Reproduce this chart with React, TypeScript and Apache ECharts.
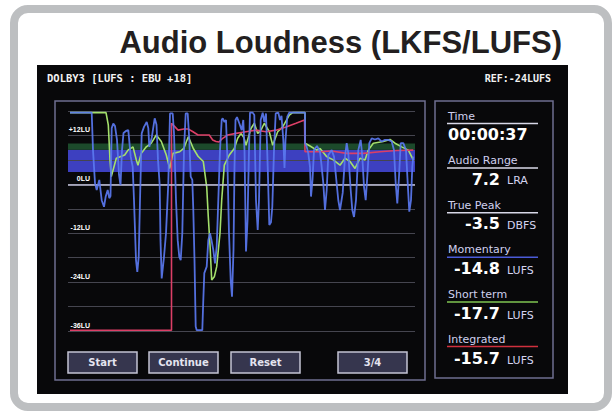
import React, { useEffect, useRef } from "react";
import * as echarts from "echarts";

// ---- data (time steps, LU relative to reference) ----
const momentary: [number, number][] = [
  [2,17.6],[23.7,17.6],[25,8.4],[27,0.3],[28.7,-1.4],[31.3,1.1],[33.7,-3.9],[36,-5.5],[37.7,-3.0],[39.7,-1.4],[41.3,-3.4],[42.5,-2.9],
  [43.7,13.8],[45.3,14.9],[47,14.3],[49,10.9],[51,2.3],[52.5,-0.2],[54,8.4],[55.5,12.6],[58,13.1],[60.3,13.3],[62.7,6.8],[64.7,4.3],
  [66,-3.9],[68,-18.6],[69.3,-21.5],[70.7,-17.8],[72,-3.9],[73.7,12.5],[76,14.1],[78.7,15.3],[80.3,13.8],[81.3,9.2],[83.7,11.4],
  [86.7,16.2],[88.5,14.6],[90,6.0],[91.7,-0.2],[92.5,-13.7],[93.7,-23.1],[96,-17.8],[98,-12.0],[100.3,0.3],[102,17.4],[104.7,17.4],
  [106,12.5],[108,-3.9],[109.7,-13.7],[111.3,-17.8],[112.7,-18.6],[114.3,-12.0],[116,8.4],[117.7,17.4],[119.7,17.4],[121.3,10.9],
  [122.7,1.9],[124.3,1.1],[125.3,-6.3],[126.5,-18.6],[127.7,-34.9],[128.7,-35.8],[134.3,-35.8],[135.3,-28.4],[136.3,-21.8],
  [138.7,-20.2],[140.3,-13.7],[142,-12.0],[143.5,-13.7],[145.3,-16.1],[147,-19.4],[148.7,-15.3],[150.3,-3.9],[152,8.4],[153.7,15.8],
  [154.7,16.2],[156.5,15.3],[158,15.8],[159.3,6.8],[161,-12.0],[162.7,-23.5],[164,-27.6],[165.5,-16.1],[166.5,4.3],[167.5,15.8],
  [169,16.5],[171.3,15.0],[173.7,13.3],[175.3,15.8],[176.5,8.4],[177,0.3],[178,-16.5],[179.5,-9.0],[181,8.4],[182,17.6],[184.7,17.6],
  [186.3,17.0],[188,-3.9],[189.7,-11.2],[191,-3.9],[192.7,15.8],[194.7,17.6],[196.3,15.3],[198,17.4],[199.7,4.3],[201.3,-10.0],
  [203,-9.3],[204.3,-5.5],[206,8.4],[207.7,17.4],[210.3,17.6],[212,15.8],[213.5,16.8],[215.3,10.9],[216.5,4.0],[217.5,10.9],
  [219.3,16.6],[221.3,17.6],[237,17.6],[237,10.1],[238.7,9.2],[240.3,7.6],[242,4.3],[243,-3.0],[244.5,1.1],[246,8.4],[249,9.4],
  [252,8.0],[253.5,4.7],[255.3,0.3],[257,-6.3],[258.7,-1.4],[260.3,7.2],[263.7,8.4],[266,6.8],[268,1.9],[270.3,-3.9],[272,-6.3],
  [274.7,-2.1],[277,6.8],[278.7,10.1],[280.3,7.6],[282.7,-1.4],[284.3,-6.3],[286,-8.0],[288,-3.9],[290.3,8.4],[292.7,10.9],
  [294.3,6.8],[296,-0.6],[297.7,-3.9],[299.3,1.9],[301.3,10.1],[303.7,11.3],[307,11.0],[310.3,11.3],[313.7,10.5],[317,10.9],
  [320.3,10.9],[323.7,10.5],[326,8.4],[327.7,0.3],[329.3,-4.7],[331,1.9],[332.7,10.1],[335.3,10.1],[338,8.4],[339.7,0.3],
  [341.3,-6.7],[343,-3.9],[344.3,4.3],[345.3,6.8],
];

const shortTerm: [number, number][] = [
  [2,17.6],[38,17.6],[40.3,14.6],[42,6.0],[43.3,1.9],[48.3,6.4],[56.7,7.2],[60,8.4],[65,9.2],[68.3,6.0],[70,4.7],[73.3,7.6],
  [78.3,9.2],[83.3,10.1],[88.3,12.1],[93.3,10.5],[98.3,7.2],[101.7,3.9],[105,7.6],[111.7,8.0],[116,8.9],[120.3,11.7],[125.3,8.8],
  [130,6.9],[135.3,5.6],[138.7,-0.6],[140.3,-8.0],[142,-14.9],[143.7,-23.5],[146.3,-22.7],[148.7,-20.2],[152,-12.0],[153.7,-3.9],
  [156.3,4.7],[161.3,7.2],[166.3,8.8],[169.7,11.3],[173,12.5],[176,11.4],[178,9.6],[183,13.7],[186.3,15.0],[189.7,12.5],[193,13.3],
  [196.3,15.0],[201.3,12.9],[204.7,9.6],[209.7,12.9],[214.7,14.1],[221.3,17.0],[224.7,17.6],[237,17.6],[237,10.1],[242,9.4],
  [248.7,8.4],[252,8.8],[258.7,6.8],[265.3,6.0],[272,4.7],[277,6.4],[282,5.6],[287,3.9],[292,6.4],[297,6.0],[300.3,8.4],
  [305.3,10.1],[315.3,10.5],[322,11.0],[327,10.1],[333.7,9.2],[340.3,8.4],[345.3,6.0],
];

const integrated: [number, number][] = [
  [2,-35.8],[103.5,-35.8],[103.5,15.0],[107,14.1],[110,13.3],[116,13.6],[120,13.6],[125,12.9],[130,12.1],[141.3,12.1],
  [144.7,10.9],[148,10.5],[151,10.4],[154.7,11.3],[159.7,12.1],[168,12.5],[178,12.9],[188,13.3],[198,12.9],[208,13.3],[218,14.1],
  [228,15.0],[236.5,15.8],[237,8.0],[252,8.0],[263.7,8.2],[278.7,7.6],[295.3,7.6],[312,8.0],[328.7,8.3],[345.3,8.4],
];

const targetBand: [number, number] = [3, 8.5];
const toleranceBand: [number, number] = [8.5, 10];
const refLine = [0];
const labeledTicks = [12, 0, -12, -24, -36];

const titleText = "Audio Loudness (LKFS/LUFS)";
const headerLeft = "DOLBY3 [LUFS : EBU +18]";
const headerRight = "REF:-24LUFS";
const buttons = ["Start", "Continue", "Reset", "3/4"];
const readoutLabels = ["Time", "Audio Range", "True Peak", "Momentary", "Short term", "Integrated"];
const readoutValues = ["00:00:37", "7.2", "-3.5", "-14.8", "-17.7", "-15.7"];
const readoutUnits = ["", "LRA", "DBFS", "LUFS", "LUFS", "LUFS"];

// ---- styles ----
const C_MOM = "#5a78f0";
const C_SHORT = "#a4e06c";
const C_INT = "#dc3f66";
const underlineColors = ["#d8d8e8", "#d8d8e8", "#d8d8e8", "#4b5bd8", "#7fc452", "#d0303e"];
const buttonX = [68, 149, 231, 338];
const VERDANA = '"DejaVu Sans", Verdana, sans-serif';

function fmtLU(v: number) {
  if (!labeledTicks.includes(v)) return "";
  return v > 0 ? `+${v}LU` : `${v}LU`;
}

function txt(x: number, y: number, text: string, font: string, fill: string, align = "left", z = 10) {
  return {
    type: "text",
    x,
    y,
    z,
    silent: true,
    style: { text, font, fill, textAlign: align, align, textVerticalAlign: "middle", verticalAlign: "middle" },
  };
}

function buildGraphic() {
  const els: any[] = [];
  els.push({ type: "rect", z: -10, silent: true, shape: { x: 14, y: 9, width: 594, height: 398, r: 14 }, style: { fill: "#ffffff", stroke: "#bdbfc1", lineWidth: 8 } });
  els.push({ type: "rect", z: -9, silent: true, shape: { x: 37, y: 65, width: 531, height: 329 }, style: { fill: "#08080a" } });
  els.push({ type: "rect", z: -8, silent: true, shape: { x: 55, y: 101, width: 370, height: 279 }, style: { fill: "none", stroke: "#6e6e90", lineWidth: 1.5 } });
  els.push({ type: "rect", z: -8, silent: true, shape: { x: 435, y: 101, width: 118, height: 277 }, style: { fill: "none", stroke: "#6e6e90", lineWidth: 1.5 } });
  els.push(txt(562, 42, titleText, 'bold 31px "Liberation Sans", Arial, sans-serif', "#231f20", "right"));
  els.push(txt(47, 78, headerLeft, 'bold 10.5px "DejaVu Sans Mono", monospace', "#f2f2f2", "left"));
  els.push(txt(551, 78, headerRight, 'bold 10px "DejaVu Sans Mono", monospace', "#f2f2f2", "right"));
  buttons.forEach((b, i) => {
    els.push({ type: "rect", z: 5, silent: true, shape: { x: buttonX[i], y: 352, width: 69, height: 21 }, style: { fill: "#36364e", stroke: "#c4c4d4", lineWidth: 1.5 } });
    els.push(txt(buttonX[i] + 34.5, 362.5, b, `bold 10px ${VERDANA}`, "#e4e4f0", "center"));
  });
  readoutLabels.forEach((lab, i) => {
    const base = 116 + 44.6 * i;
    els.push(txt(448, base, lab, `11px ${VERDANA}`, "#cfd0ee", "left"));
    const uy = 123.5 + 44.6 * i;
    els.push({ type: "line", z: 10, silent: true, shape: { x1: 447, y1: uy, x2: 538, y2: uy }, style: { stroke: underlineColors[i], lineWidth: 1.5 } });
    const vy = 134.2 + 44.8 * i;
    if (i === 0) {
      els.push(txt(448, vy, readoutValues[i], `bold 16px ${VERDANA}`, "#ffffff", "left"));
    } else {
      els.push(txt(500, vy, readoutValues[i], `bold 16px ${VERDANA}`, "#ffffff", "right"));
      els.push(txt(507, vy + 1.8, readoutUnits[i], `11px ${VERDANA}`, "#d4d4f0", "left"));
    }
  });
  return els;
}

export default function App() {
  const ref = useRef<HTMLDivElement>(null);
  useEffect(() => {
    if (!ref.current) return;
    const chart = echarts.init(ref.current, undefined, { renderer: "svg" });
    chart.setOption({
      animation: false,
      backgroundColor: "#ffffff",
      grid: { left: 68, top: 111, width: 347, height: 220 },
      xAxis: { type: "value", min: 0, max: 347, show: false },
      yAxis: {
        type: "value",
        min: -36,
        max: 18,
        interval: 6,
        axisLine: { show: false },
        axisTick: { show: false },
        splitLine: { show: true, lineStyle: { color: "#45454f", width: 1 } },
        axisLabel: {
          inside: true,
          margin: 22,
          align: "right",
          verticalAlign: "bottom",
          padding: [0, 0, 2, 0],
          formatter: (v: number) => fmtLU(v),
          color: "#ffffff",
          fontSize: 7,
          fontWeight: "bold",
          fontFamily: '"Liberation Sans", Arial, sans-serif',
        },
        z: 3,
      },
      graphic: buildGraphic(),
      series: [
        {
          type: "line",
          name: "bands",
          data: [],
          z: 1,
          silent: true,
          markArea: {
            silent: true,
            itemStyle: { opacity: 1 },
            data: [
              [{ yAxis: targetBand[0], itemStyle: { color: "#3d40c0" } }, { yAxis: targetBand[1] }],
              [{ yAxis: toleranceBand[0], itemStyle: { color: "#1c4a2b" } }, { yAxis: toleranceBand[1] }],
            ],
          },
          markLine: {
            silent: true,
            symbol: "none",
            label: { show: false },
            lineStyle: { color: "#c4c4dc", width: 1.5, type: "solid" },
            data: refLine.map((v) => ({ yAxis: v })),
          },
        },
        { type: "line", name: "Short term", data: shortTerm, showSymbol: false, z: 3, lineStyle: { color: C_SHORT, width: 1.6 } },
        { type: "line", name: "Integrated", data: integrated, showSymbol: false, z: 4, lineStyle: { color: C_INT, width: 1.6 } },
        { type: "line", name: "Momentary", data: momentary, showSymbol: false, z: 5, lineStyle: { color: C_MOM, width: 1.8, opacity: 0.92 } },
      ],
    });
    return () => chart.dispose();
  }, []);
  return <div ref={ref} style={{ position: "absolute", left: 0, top: 0, width: 616, height: 412 }} />;
}
